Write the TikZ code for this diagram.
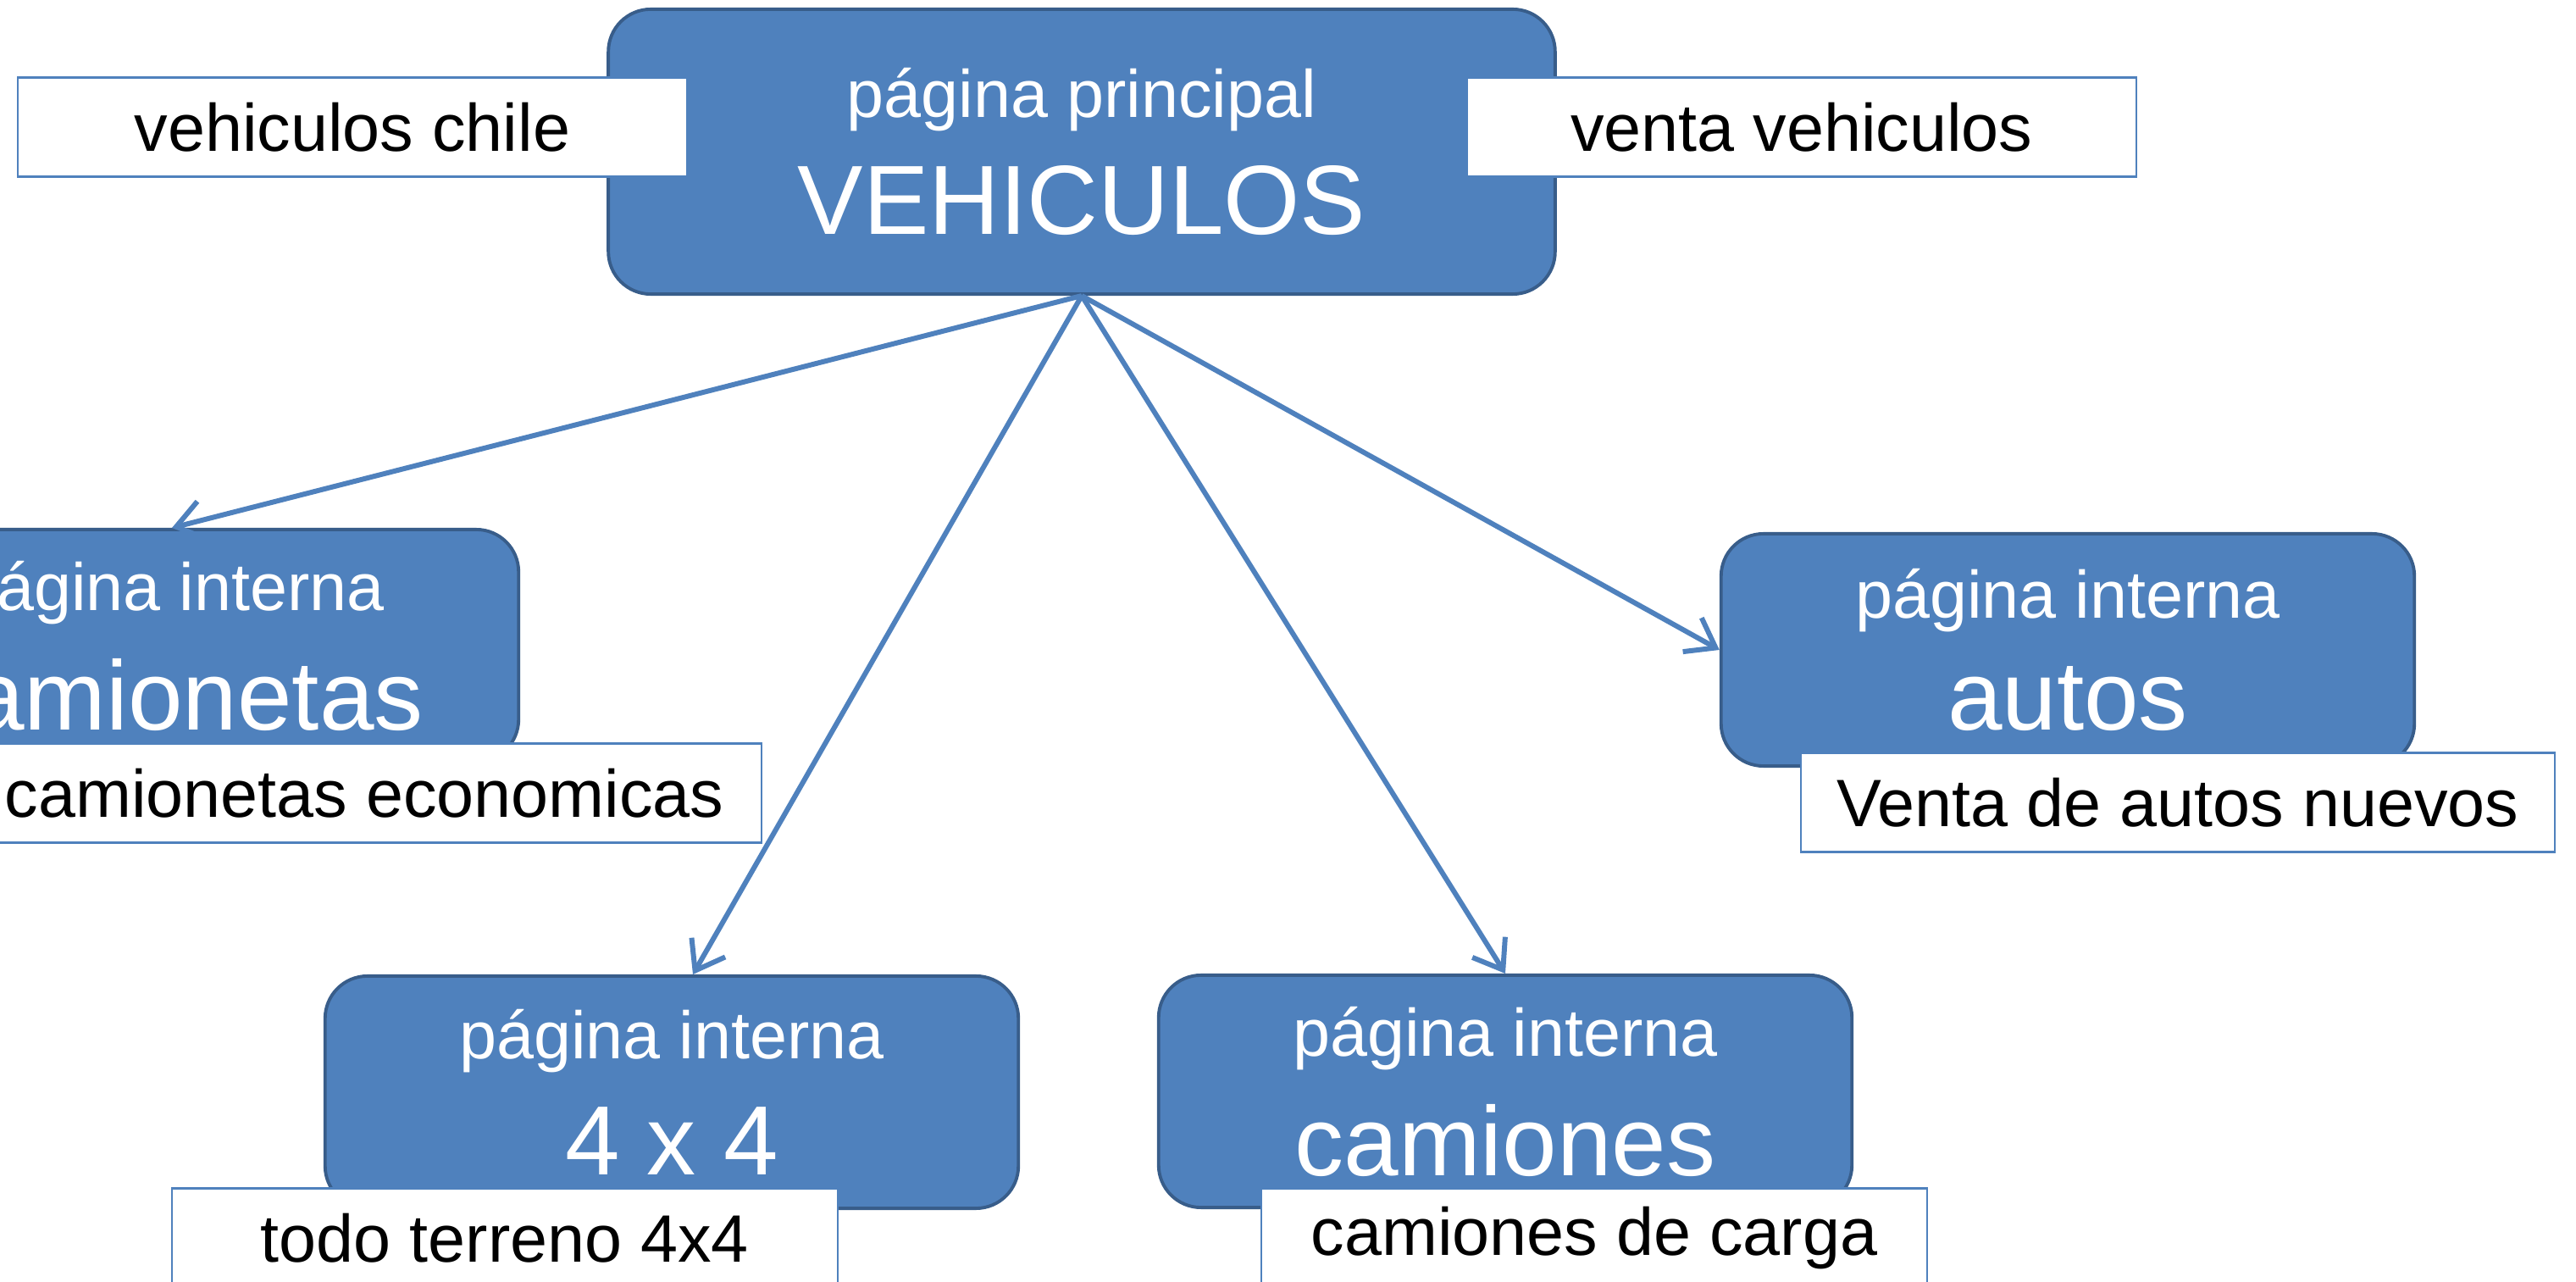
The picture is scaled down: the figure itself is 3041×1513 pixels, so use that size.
\documentclass[tikz,border=0pt]{standalone}
\usepackage{fontspec}
\setmainfont{Liberation Sans}
\usetikzlibrary{arrows.meta}
\definecolor{azul}{HTML}{4F81BD}
\definecolor{azulborde}{HTML}{385D8A}
\newcommand{\chico}{\fontsize{22.5}{27}\selectfont}
\newcommand{\grande}{\fontsize{33}{37.6}\selectfont}

\begin{document}
\begin{tikzpicture}[x=0.01cm, y=-0.01cm,
        pagina/.style={draw=azulborde, line width=1.1pt, fill=azul, rounded corners=0.5cm, text=white, align=center, inner sep=0pt, minimum width=8.18cm, minimum height=2.74cm},
        etiqueta/.style={draw=azul, line width=0.6pt, fill=white, inner sep=0pt, minimum height=1.17cm, font=\chico},
        enlace/.style={azul, line width=1.7pt, -{Straight Barb[length=9pt,width=13pt]}}]
        
        \useasboundingbox (0,0) rectangle (3041,1513);
        
        %las paginas
        \node [pagina, minimum width=11.17cm, minimum height=3.36cm] (principal) at (1277,179) {\chico página principal\\[10.5pt]\grande VEHICULOS};
        \node [pagina] (camionetas) at (203,762) {\chico página interna\\[10.5pt]\grande camionetas};
        \node [pagina] (autos) at (2441,767) {\chico página interna\\[10.5pt]\grande autos};
        \node [pagina] (cuatro) at (793,1289) {\chico página interna\\[10.5pt]\grande 4 x 4};
        \node [pagina] (camiones) at (1777,1288) {\chico página interna\\[10.5pt]\grande camiones};
        
        %flechas
        \draw [enlace] (principal.south) -- (camionetas.north);
        \draw [enlace] (principal.south) -- ([xshift=0.25cm]cuatro.north);
        \draw [enlace] (principal.south) -- (camiones.north);
        \draw [enlace] (principal.south) -- (autos.west);
        
        %etiquetas
        \node [etiqueta, minimum width=7.9cm] (chile) at (416,150) {vehiculos chile};
        \node [etiqueta, minimum width=7.89cm] (venta) at (2127,150) {venta vehiculos};
        \node [etiqueta, minimum width=9.38cm] (economicas) at (430,936) {camionetas economicas};
        \node [etiqueta, minimum width=8.9cm] (nuevos) at (2571,947) {Venta de autos nuevos};
        \node [etiqueta, minimum width=7.86cm] (terreno) at (596,1461) {todo terreno 4x4};
        \node [etiqueta, minimum width=7.86cm] (carga) at (1882,1461) {camiones de carga};
        
    \end{tikzpicture}
\end{document}
